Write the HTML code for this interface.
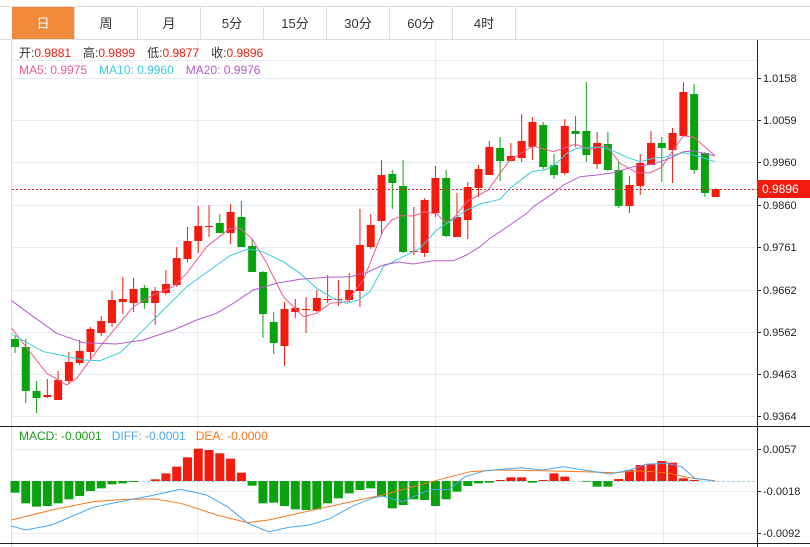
<!DOCTYPE html>
<html><head><meta charset="utf-8"><style>
body{margin:0;width:810px;height:547px;overflow:hidden;background:#fff;font-family:"Liberation Sans","Noto Sans CJK SC",sans-serif}
svg{position:absolute;left:0;top:0}
</style></head><body>
<svg id="s" width="810" height="547" xmlns="http://www.w3.org/2000/svg" font-family="Liberation Sans, Noto Sans CJK SC, sans-serif"></svg>
<script>
var o='';
function L(x1,y1,x2,y2,c,w,d){o+='<line x1="'+x1+'" y1="'+y1+'" x2="'+x2+'" y2="'+y2+'" stroke="'+c+'" stroke-width="'+(w||1)+'"'+(d?' stroke-dasharray="'+d+'"':'')+'/>';}
function R(x,y,w,h,c){o+='<rect x="'+x+'" y="'+y+'" width="'+w+'" height="'+h+'" fill="'+c+'"/>';}
function T(x,y,t,c,s,a){o+='<text x="'+x+'" y="'+y+'" fill="'+c+'" font-size="'+(s||12)+'"'+(a?' text-anchor="'+a+'"':'')+'>'+t+'</text>';}
L(0,6.5,810,6.5,'#dcdcdc');L(0,39.5,810,39.5,'#dcdcdc');
R(12,7,62,32,'#f28a3c');
var tabs=['日','周','月','5分','15分','30分','60分','4时'];
for(var i=0;i<8;i++){var x=12+i*63;L(x+62.5,7,x+62.5,39,'#dcdcdc');T(x+31,28,tabs[i],i?'#333':'#fff',13,'middle');}
L(11.5,40,11.5,547,'#dcdcdc');
[78,120,162,205,247,290,332,374,416].forEach(function(y){L(12,y+.5,757,y+.5,'#e4edf3');});
L(12,60.5,757,60.5,'#e4edf3');
[197.5,435.5,663.5].forEach(function(x){L(x,40,x,426,'#e4edf3');L(x,427,x,543,'#e4edf3');});
[449,491,533].forEach(function(y){L(12,y+.5,757,y+.5,'#e4edf3');});
L(757.5,40,757.5,547,'#222');
var pl=[['1.0158',78],['1.0059',120],['0.9960',162],['0.9860',205],['0.9761',247],['0.9662',290],['0.9562',332],['0.9463',374],['0.9364',416]];
pl.forEach(function(p){L(757,p[1]+.5,761,p[1]+.5,'#222');T(763,p[1]+4,p[0],'#222',11);});
[['0.0057',449],['-0.0018',491],['-0.0092',533]].forEach(function(p){L(757,p[1]+.5,761,p[1]+.5,'#222');T(763,p[1]+4,p[0],'#222',11);});
L(0,426.5,757,426.5,'#222');L(0,543.5,810,543.5,'#222');L(757,426.5,810,426.5,'#222');
var C=[['g',339,347,335,353],['g',347,391,339,403],['g',391,398,381,413],['r',395,397,379,398],['r',380,400,371,400],['r',362,381,352,383],['r',351,363,340,365],['r',329,352,327,359],['r',321,333,316,336],['r',300,323,291,327],['r',299,302,277,314],['r',289,303,278,312],['g',288,303,285,309],['r',291,303,287,325],['r',284,293,270,295],['r',258,285,247,287],['r',241,259,227,262],['r',226,241,206,253],['r',226,227,205,237],['g',223,233,214,233],['r',212,233,204,244],['g',217,247,201,247],['g',246,272,238,272],['g',272,314,271,338],['g',322,343,312,354],['r',309,346,302,366],['r',308,312,299,318],['r',309,310,297,333],['r',298,311,290,312],['r',299,300,275,303],['r',299,300,280,306],['r',290,300,273,302],['r',245,291,209,307],['r',225,247,214,249],['r',175,221,160,235],['g',174,183,170,209],['g',186,252,160,253],['r',251,252,207,255],['r',200,253,198,257],['r',178,213,166,217],['g',178,236,170,237],['r',217,237,193,237],['r',187,220,182,239],['r',169,188,165,197],['r',147,175,141,175],['g',148,161,137,181],['r',156,161,143,161],['r',141,158,114,162],['r',122,147,117,160],['g',125,167,122,169],['g',165,175,154,179],['r',126,173,119,175],['g',131,134,116,147],['g',131,155,82,162],['r',143,164,132,169],['g',144,170,132,171],['g',170,206,162,208],['r',185,206,176,213],['r',163,186,154,195],['r',143,165,131,165],['g',143,148,137,182],['r',133,150,128,183],['r',92,136,82,136],['g',94,170,84,174],['g',153,193,152,197],['r',189,197,188,197]];
var S=10.78;
C.forEach(function(c,i){var x=15+S*i,col=c[0]=='r'?'#f21b0e':'#0aa30f';L(x,c[3],x,c[4],col);R(x-4,c[1],8,Math.max(1,c[2]-c[1]),col);});
function P(pts,sx,ox,oy,c,w){var s='';pts.forEach(function(p){s+=(p[0]/sx+ox).toFixed(1)+','+(p[1]/3+oy).toFixed(1)+' ';});o+='<polyline points="'+s+'" fill="none" stroke="'+c+'" stroke-width="'+(w||1)+'"/>';}
function P2(a,b,c){P(a,3,0,60,c);P(b,3,400,60,c);}
P2([[35,805],[70,850],[140,940],[200,975],[230,955],[300,860],[400,740],[460,705],[520,680],[560,640],[620,560],[690,505],[720,505],[755,535],[800,610],[850,710],[910,770],[950,760],[990,730],[1040,725],[1090,660],[1150,510],[1175,480],[1200,470]],[[0,467],[40,468],[75,455],[110,462],[140,490],[165,470],[200,425],[265,390],[300,340],[330,300],[400,258],[460,275],[525,253],[570,268],[620,258],[660,310],[710,338],[750,338],[785,322],[820,270],[850,228],[880,230],[945,287]],'#ee5a8a');
P2([[35,822],[130,875],[180,885],[250,900],[300,902],[360,878],[420,820],[490,750],[560,680],[630,630],[690,587],[740,568],[780,572],[850,605],[900,640],[950,685],[1000,715],[1040,730],[1075,720],[1110,695],[1150,620],[1200,595]],[[0,595],[60,565],[110,510],[160,478],[200,450],[240,432],[300,418],[330,385],[395,335],[440,328],[470,310],[500,280],[530,265],[600,262],[630,268],[680,292],[720,305],[760,295],[800,290],[850,278],[900,290],[945,305]],'#3ccbdc');
P2([[35,722],[100,770],[170,820],[250,848],[350,852],[430,840],[520,810],[590,780],[650,760],[700,730],[760,690],[830,670],[900,658],[980,652],[1050,650],[1100,638],[1150,615],[1200,605]],[[0,607],[40,612],[100,602],[160,602],[200,585],[240,560],[270,535],[330,495],[380,460],[400,440],[460,400],[490,375],[540,350],[590,345],[640,338],[700,320],[760,312],[810,295],[850,275],[880,273],[945,287]],'#b45ccd');
L(12,189.5,757,189.5,'#e0201a',1,'2,2');
R(757,180,53,18,'#f21b0e');T(762,193,'0.9896','#fff',12);
o+='<text x="19" y="57" font-size="12"><tspan fill="#333">开:</tspan><tspan fill="#f21b0e">0.9881</tspan><tspan fill="#333" dx="12">高:</tspan><tspan fill="#f21b0e">0.9899</tspan><tspan fill="#333" dx="12">低:</tspan><tspan fill="#f21b0e">0.9877</tspan><tspan fill="#333" dx="12">收:</tspan><tspan fill="#f21b0e">0.9896</tspan></text>';
o+='<text x="19" y="74" font-size="12"><tspan fill="#ee5a8a">MA5: 0.9975</tspan><tspan fill="#3ccbdc" dx="12">MA10: 0.9960</tspan><tspan fill="#b45ccd" dx="12">MA20: 0.9976</tspan></text>';
L(12,481.5,757,481.5,'#9fd3e8',1,'3,2');
var M=[218,250,260,258,250,238,228,213,205,193,190,186,183,178,160,140,112,86,90,100,116,158,197,250,248,258,268,270,268,250,235,220,210,205,230,265,255,238,240,258,238,215,198,190,188,180,172,172,188,180,160,170,183,185,200,200,177,150,135,133,123,128,175,180,182];
M.forEach(function(z,i){var y=z/3+420,x=15+S*i,z0=481;if(Math.abs(y-z0)<.5)return;var col=y<z0?'#f21b0e':'#0aa30f';R(x-4.5,Math.min(y,z0),9,Math.abs(y-z0),col);});
P([[22,300],[100,270],[180,245],[240,238],[300,237],[350,250],[420,285],[480,308],[520,300],[600,272],[680,245],[740,225],[800,200],[860,175],[910,155],[960,150],[1050,152],[1130,155],[1190,158],[1240,152],[1290,158],[1340,175],[1385,182]],1.936,0,420,'#f47a20');
P([[22,318],[50,330],[100,315],[180,262],[240,242],[290,228],[350,208],[400,225],[440,260],[480,310],[520,335],[560,322],[600,315],[640,295],[680,260],[720,235],[740,228],[780,245],[800,230],[830,210],[870,208],[900,170],[940,152],[1010,143],[1050,150],[1090,140],[1130,150],[1180,162],[1220,150],[1250,133],[1290,130],[1320,140],[1345,175],[1380,182]],1.936,0,420,'#4aa8f0');
o+='<text x="19" y="440" font-size="12"><tspan fill="#1a9a1a">MACD: -0.0001</tspan><tspan fill="#4aa8f0" dx="10">DIFF: -0.0001</tspan><tspan fill="#f47a20" dx="10">DEA: -0.0000</tspan></text>';
document.getElementById('s').innerHTML=o;
</script>
</body></html>
